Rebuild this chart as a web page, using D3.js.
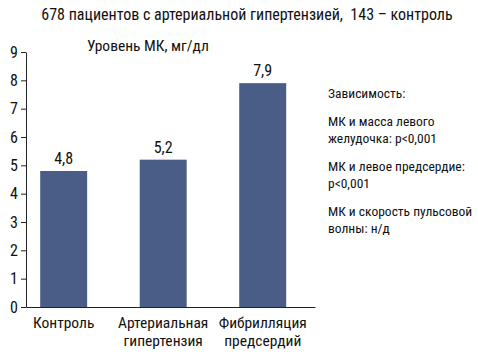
<!DOCTYPE html>
<html>
<head>
<meta charset="utf-8">
<script src="https://cdn.jsdelivr.net/npm/d3@7"></script>
<style>
  body { margin: 0; background: #fff; }
  text { font-family: "Liberation Sans Narrow", "Roboto Condensed", "Liberation Sans", sans-serif; fill: #111; }
</style>
</head>
<body>
<div id="chart"></div>
<script>
// данные
const categories = [["Контроль"], ["Артериальная", "гипертензия"], ["Фибрилляция", "предсердий"]];
const values = [4.8, 5.2, 7.9];
const valueLabels = ["4,8", "5,2", "7,9"];
const yTicks = [0, 1, 2, 3, 4, 5, 6, 7, 8, 9];
const title = "678 пациентов с артериальной гипертензией,  143 – контроль";
const yTitle = "Уровень МК, мг/дл";
const notes = [
  ["Зависимость:"],
  ["МК и масса левого", "желудочка: p<0,001"],
  ["МК и левое предсердие:", "p<0,001"],
  ["МК и скорость пульсовой", "волны: н/д"]
];

const W = 478, H = 354;
const margin = { top: 52, left: 26, bottom: 47 };
const plotW = 289;
const plotH = H - margin.top - margin.bottom;

const svg = d3.select("#chart").append("svg")
  .attr("width", W).attr("height", H);

svg.append("text")
  .attr("x", 247).attr("y", 20)
  .attr("text-anchor", "middle")
  .style("font-size", "16px")
  .style("white-space", "pre")
  .text(title);

const g = svg.append("g")
  .attr("transform", `translate(${margin.left},${margin.top})`);

const keys = categories.map(d => d.join(" "));

const x = d3.scaleBand()
  .domain(keys)
  .range([0, plotW])
  .paddingInner(0.528)
  .paddingOuter(0.216)
  .align(0.33);

const y = d3.scaleLinear()
  .domain([0, 9])
  .range([plotH, 0]);

// ось Y
const yAxis = g.append("g")
  .call(d3.axisLeft(y).tickValues(yTicks).tickSize(5).tickSizeOuter(0).tickPadding(3));
yAxis.select(".domain").attr("stroke", "#222");
yAxis.selectAll(".tick line").attr("stroke", "#222");
yAxis.selectAll("text").style("font-size", "16px").attr("font-family", null).attr("fill", "#111");

// ось X
const xAxis = g.append("g")
  .attr("transform", `translate(0,${plotH})`)
  .call(d3.axisBottom(x).tickSize(0).tickSizeOuter(0).tickFormat(""));
xAxis.select(".domain").attr("stroke", "#222");

g.append("text")
  .attr("x", 61).attr("y", -1)
  .style("font-size", "15.5px")
  .text(yTitle);

// столбцы
g.selectAll("rect.bar")
  .data(values)
  .join("rect")
  .attr("class", "bar")
  .attr("x", (d, i) => x(keys[i]))
  .attr("y", d => y(d))
  .attr("width", x.bandwidth())
  .attr("height", d => plotH - y(d))
  .attr("fill", "#4a5d87");

g.selectAll("text.val")
  .data(values)
  .join("text")
  .attr("class", "val")
  .attr("x", (d, i) => x(keys[i]) + x.bandwidth() / 2)
  .attr("y", d => y(d) - 7)
  .attr("text-anchor", "middle")
  .style("font-size", "16px")
  .text((d, i) => valueLabels[i]);

// подписи категорий
const cat = g.selectAll("text.cat")
  .data(categories)
  .join("text")
  .attr("class", "cat")
  .attr("text-anchor", "middle")
  .attr("x", (d, i) => x(keys[i]) + x.bandwidth() / 2)
  .attr("y", plotH + 21)
  .style("font-size", "15.5px");
cat.selectAll("tspan")
  .data(d => d)
  .join("tspan")
  .attr("x", function () { return this.parentNode.getAttribute("x"); })
  .attr("dy", (d, i) => i === 0 ? 0 : 18)
  .text(d => d);

// примечания справа
let ny = 98;
notes.forEach(par => {
  par.forEach((line, i) => {
    svg.append("text")
      .attr("x", 328).attr("y", ny + i * 17)
      .style("font-size", "13.5px")
      .text(line);
  });
  ny += (par.length - 1) * 17 + 28;
});
</script>
</body>
</html>
